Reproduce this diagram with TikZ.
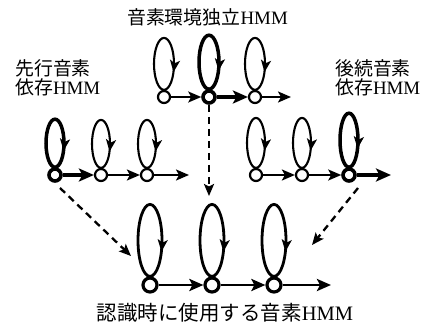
\documentclass[tikz,border=0pt]{standalone}
\usepackage{fontspec}
\setmainfont{Liberation Serif}
\newfontfamily\jp{Noto Sans CJK JP}
\usetikzlibrary{arrows.meta,decorations.markings}
\tikzset{
  st/.style={circle, draw, line width=2.2pt, minimum size=12pt, inner sep=0pt, fill=white},
  stb/.style={st, line width=3.6pt},
  stbig/.style={st, line width=3.2pt, minimum size=14pt},
  tr/.style={line width=2.1pt, -{Stealth[length=13pt,width=11pt,inset=3pt]}},
  trb/.style={line width=3.5pt, -{Stealth[length=15pt,width=13pt,inset=3.5pt]}},
  trm/.style={line width=2.8pt, -{Stealth[length=14pt,width=12pt,inset=3pt]}},
  lp/.style={line width=2.1pt, postaction={decorate}, decoration={markings, mark=at position 0.82 with {\arrow{Stealth[length=12pt,width=10pt,inset=3pt]}}}},
  lpb/.style={lp, line width=3.5pt},
  lpm/.style={lp, line width=2.8pt},
  dsh/.style={line width=2.3pt, dash pattern=on 7pt off 5pt, -{Stealth[length=12pt,width=10pt,inset=2.5pt]}},
  lbl/.style={inner sep=0pt, font=\fontsize{18.9}{16}\selectfont, align=left},
  lblbig/.style={inner sep=0pt, font=\fontsize{20.5}{20}\selectfont},
}
\begin{document}
\begin{tikzpicture}[x=1pt,y=1pt]
\useasboundingbox[fill=white] (0,0) rectangle (425,-326);
% labels
\node[lbl] (title) at (207.5,-17) {{\jp 音素環境独立}HMM};
\node[lbl, anchor=west] (leftlbl) at (15,-78) {{\jp 先行音素}\\{\jp 依存}HMM};
\node[lbl, anchor=west] (rightlbl) at (335,-78) {{\jp 後続音素}\\{\jp 依存}HMM};
\node[lblbig] (botlbl) at (225,-313) {{\jp 認識時に使用する音素}HMM};
% top HMM
\node[st] (t1) at (164,-97) {};
\node[stb] (t2) at (209,-97) {};
\node[st] (t3) at (255,-97) {};
\coordinate (tend) at (291,-97);
\draw[lp] (t1.north) arc[start angle=270, end angle=-90, x radius=10, y radius=26];
\draw[lpb] (t2.north) arc[start angle=270, end angle=-90, x radius=10, y radius=27];
\draw[lp] (t3.north) arc[start angle=270, end angle=-90, x radius=10, y radius=26];
\draw[tr] (t1) -- (t2);
\draw[trb] (t2) -- (t3);
\draw[tr] (t3) -- (tend);
% left HMM
\node[stb] (l1) at (55,-175) {};
\node[st] (l2) at (101,-175) {};
\node[st] (l3) at (147,-175) {};
\coordinate (lend) at (189,-175);
\draw[lpb] (l1.north) arc[start angle=270, end angle=-90, x radius=9, y radius=24];
\draw[lp] (l2.north) arc[start angle=270, end angle=-90, x radius=9, y radius=24];
\draw[lp] (l3.north) arc[start angle=270, end angle=-90, x radius=9, y radius=24];
\draw[trb] (l1) -- (l2);
\draw[tr] (l2) -- (l3);
\draw[tr] (l3) -- (lend);
% right HMM
\node[st] (r1) at (256,-175) {};
\node[st] (r2) at (302,-175) {};
\node[stb] (r3) at (349,-175) {};
\coordinate (rend) at (391,-175);
\draw[lp] (r1.north) arc[start angle=270, end angle=-90, x radius=9, y radius=25];
\draw[lp] (r2.north) arc[start angle=270, end angle=-90, x radius=9, y radius=25];
\draw[lpb] (r3.north) arc[start angle=270, end angle=-90, x radius=9, y radius=27];
\draw[tr] (r1) -- (r2);
\draw[tr] (r2) -- (r3);
\draw[trb] (r3) -- (rend);
% bottom HMM
\node[stbig] (b1) at (150,-285) {};
\node[stbig] (b2) at (212,-285) {};
\node[stbig] (b3) at (274,-285) {};
\coordinate (bend) at (331,-285);
\draw[lpm] (b1.north) arc[start angle=270, end angle=-90, x radius=12, y radius=36];
\draw[lpm] (b2.north) arc[start angle=270, end angle=-90, x radius=12, y radius=36];
\draw[lpm] (b3.north) arc[start angle=270, end angle=-90, x radius=12, y radius=36];
\draw[trm] (b1) -- (b2);
\draw[trm] (b2) -- (b3);
\draw[trm] (b3) -- (bend);
% dashed arrows
\coordinate (dtop) at (209,-196);
\coordinate (dls) at (60,-188);
\coordinate (dle) at (131,-256);
\coordinate (drs) at (358,-188);
\coordinate (dre) at (312,-245);
\draw[dsh] (t2.south) -- (dtop);
\draw[dsh] (dls) -- (dle);
\draw[dsh] (drs) -- (dre);
\end{tikzpicture}
\end{document}
